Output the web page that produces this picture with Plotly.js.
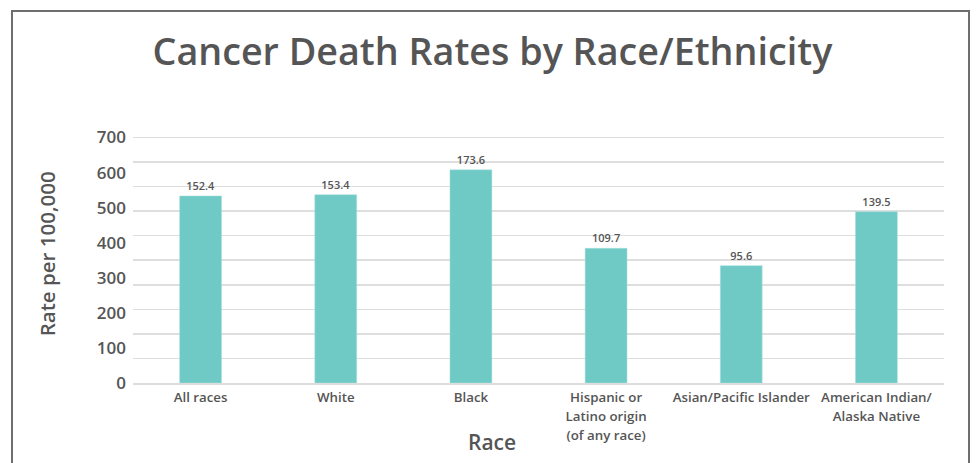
<!DOCTYPE html>
<html>
<head>
<meta charset="utf-8">
<script src="https://cdn.plot.ly/plotly-3.0.1.min.js"></script>
<style>
  html, body { margin: 0; padding: 0; background: #fff; }
  #frame { position: absolute; left: 11px; top: 10px; width: 955px; height: 460px;
           border: 2px solid #6e6e6e; border-bottom: none; }
  #chart { position: absolute; left: 0; top: 0; width: 977px; height: 463px; }
</style>
</head>
<body>
<div id="chart"></div>
<div id="frame"></div>
<script>
const categories = ["All races", "White", "Black", "Hispanic or<br>Latino origin<br>(of any race)", "Asian/Pacific Islander", "American Indian/<br>Alaska Native"];
const rates = [152.4, 153.4, 173.6, 109.7, 95.6, 139.5];
const yTickLabels = ["0", "100", "200", "300", "400", "500", "600", "700"];
const yTickVals = [0, 100, 200, 300, 400, 500, 600, 700];

const grey = "#555555";
const labelFont = "'Open Sans', Lato, sans-serif";

const data = [
  {
    type: "bar",
    x: categories,
    y: rates,
    marker: { color: "#6fcac5", line: { color: "#a8e0dc", width: 0.5 } },
    text: rates.map(v => v.toFixed(1)),
    textposition: "outside",
    textfont: { family: labelFont, size: 11, color: grey, weight: 600 },
    cliponaxis: false,
    hoverinfo: "skip",
    yaxis: "y"
  },
  {
    type: "scatter",
    x: [categories[0]],
    y: [0],
    yaxis: "y2",
    mode: "markers",
    marker: { opacity: 0 },
    hoverinfo: "skip",
    showlegend: false
  }
];

const layout = {
  width: 977,
  height: 463,
  margin: { l: 133, r: 33, t: 134.5, b: 80 },
  paper_bgcolor: "#ffffff",
  plot_bgcolor: "#ffffff",
  showlegend: false,
  bargap: 0.69,
  title: {
    text: "Cancer Death Rates by Race/Ethnicity",
    font: { family: "'Open Sans', 'Noto Sans', sans-serif", size: 37.7, color: grey, weight: 600 },
    xref: "container", x: 0.504, xanchor: "center",
    yref: "container", y: 0.888, yanchor: "middle"
  },
  xaxis: {
    type: "category",
    tickvals: categories,
    ticktext: categories.map(c => c.split("<br>").map(s => '<span style="font-size:13.3px">' + s + '</span>').join("<br>")),
    tickfont: { family: labelFont, size: 14.6, color: grey, weight: 600 },
    showgrid: false,
    showline: true,
    linecolor: "#dddddd",
    linewidth: 1.5,
    ticks: "",
    fixedrange: true
  },
  yaxis: {
    range: [0, 202],
    tickvals: [0, 20, 40, 60, 80, 100, 120, 140, 160, 180, 200],
    showgrid: true,
    gridcolor: "#dedede",
    gridwidth: 1.5,
    zeroline: false,
    showticklabels: false,
    ticks: "",
    fixedrange: true
  },
  yaxis2: {
    overlaying: "y",
    side: "left",
    range: [0, 707.1],
    tickvals: yTickVals,
    ticktext: yTickLabels,
    showgrid: false,
    zeroline: false,
    showline: false,
    ticks: "",
    ticklabelstandoff: 6,
    tickfont: { family: labelFont, size: 17, color: grey, weight: 600 },
    fixedrange: true
  },
  annotations: [
    {
      text: "Race",
      xref: "paper", yref: "paper",
      x: (492 - 133) / 811, y: -(442 - 383) / 248.5,
      xanchor: "center", yanchor: "middle",
      showarrow: false,
      font: { family: labelFont, size: 21, color: grey, weight: 600 }
    },
    {
      text: "Rate per 100,000",
      xref: "paper", yref: "paper",
      x: (47 - 133) / 811, y: (383 - 254) / 248.5,
      xanchor: "center", yanchor: "middle",
      textangle: -90,
      showarrow: false,
      font: { family: labelFont, size: 20.5, color: grey, weight: 600 }
    }
  ]
};

Plotly.newPlot("chart", data, layout, { staticPlot: true, displayModeBar: false });
</script>
</body>
</html>
